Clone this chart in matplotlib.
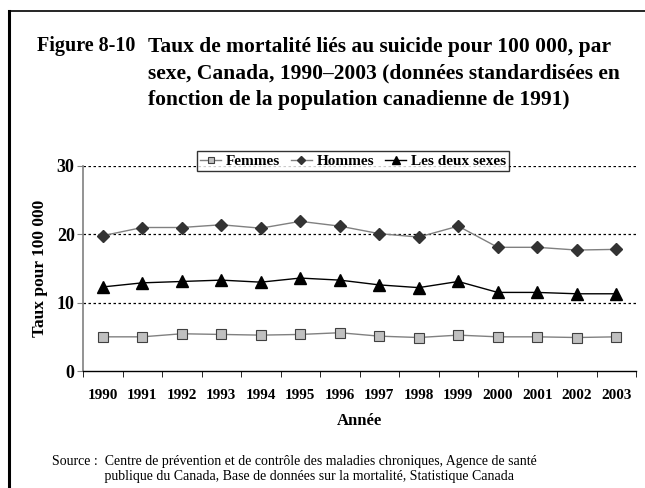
import matplotlib
matplotlib.use('Agg')
import matplotlib.pyplot as plt
from matplotlib.lines import Line2D

# Taux de mortalité liés au suicide pour 100 000, Canada
annees = ['1990', '1991', '1992', '1993', '1994', '1995', '1996',
          '1997', '1998', '1999', '2000', '2001', '2002', '2003']
femmes = [5.0, 5.0, 5.45, 5.35, 5.25, 5.35, 5.6, 5.1, 4.9, 5.25, 5.0, 5.0, 4.9, 5.0]
hommes = [19.8, 21.0, 21.0, 21.4, 20.9, 21.9, 21.2, 20.1, 19.6, 21.2, 18.1, 18.1, 17.7, 17.8]
deux_sexes = [12.3, 12.9, 13.1, 13.3, 13.0, 13.6, 13.3, 12.6, 12.2, 13.1, 11.5, 11.5, 11.3, 11.3]
y_ticks = [0, 10, 20, 30]

plt.rcParams['font.family'] = ['Liberation Serif', 'DejaVu Serif']

W, H = 645, 488
fig = plt.figure(figsize=(W / 100, H / 100), dpi=100)


def fx(px):
    return px / W


def fy(py):
    return 1 - py / H


# cadre autour de la figure
fig.add_artist(Line2D([fx(9), fx(9)], [fy(11), 0], color='black', lw=2.2))
fig.add_artist(Line2D([fx(9), 1], [fy(11), fy(11)], color='black', lw=1.2))

fig.text(fx(37), fy(51), 'Figure 8-10', fontsize=14.5, fontweight='bold', va='baseline')
titre = ('Taux de mortalité liés au suicide pour 100 000, par\n'
         'sexe, Canada, 1990–2003 (données standardisées en\n'
         'fonction de la population canadienne de 1991)')
fig.text(fx(148), fy(37), titre, fontsize=15.5, fontweight='bold', va='top',
         linespacing=1.45)

ax = fig.add_axes([fx(83), fy(371), fx(636) - fx(83), fy(166) - fy(371)])
x = list(range(len(annees)))

ax.plot(x, femmes, color='#808080', lw=1, marker='s', ms=7,
        mfc='#c0c0c0', mec='#404040', mew=0.8, label='Femmes', zorder=3)
ax.plot(x, hommes, color='#808080', lw=1, marker='D', ms=6,
        mfc='#333333', mec='#333333', label='Hommes', zorder=3)
ax.plot(x, deux_sexes, color='black', lw=1, marker='^', ms=8,
        mfc='black', mec='black', label='Les deux sexes', zorder=3)

ax.set_xlim(-0.5, len(annees) - 0.5)
ax.set_ylim(0, 30)
ax.set_yticks(y_ticks)
ax.set_yticklabels([str(v) for v in y_ticks], fontsize=13, fontweight='bold')
ax.set_xticks(x)
ax.set_xticklabels(annees, fontsize=11, fontweight='bold')
ax.tick_params(axis='x', length=0, pad=13)
ax.set_xticks([i + 0.5 for i in range(-1, len(annees))], minor=True)
ax.tick_params(axis='x', which='minor', length=4, direction='out', color='black')
ax.tick_params(axis='y', length=4, direction='out', color='#808080', pad=2)

for v in y_ticks[1:]:
    ax.axhline(v, color='black', lw=0.9, ls=(0, (2, 2)), zorder=1)

for side in ['top', 'right']:
    ax.spines[side].set_visible(False)
ax.spines['left'].set_color('#808080')
ax.spines['left'].set_linewidth(1.2)
ax.spines['bottom'].set_color('black')
ax.spines['bottom'].set_linewidth(1)

ax.set_xlabel('Année', fontsize=12, fontweight='bold', labelpad=8)
ax.set_ylabel('Taux pour 100 000', fontsize=12.5, fontweight='bold', labelpad=6)

leg = fig.legend(loc='center', bbox_to_anchor=(fx(353), fy(161)), ncol=3,
                 prop={'size': 11, 'weight': 'bold'}, frameon=True,
                 fancybox=False, edgecolor='black', handlelength=1.4,
                 handletextpad=0.3, columnspacing=0.7, borderpad=0.2,
                 markerscale=0.7)
leg.get_frame().set_linewidth(1)

source = ('Source :  Centre de prévention et de contrôle des maladies chroniques, Agence de santé\n'
          '               publique du Canada, Base de données sur la mortalité, Statistique Canada')
fig.text(fx(52), fy(469), source, fontsize=10, va='center', linespacing=1.15)

fig.savefig('out.png', dpi=100)
